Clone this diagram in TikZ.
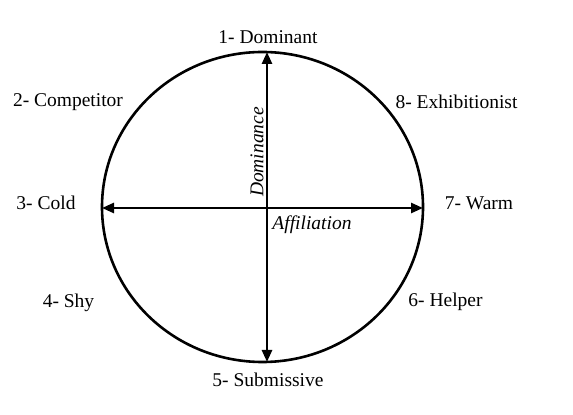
\documentclass[tikz,border=0pt]{standalone}
\usepackage{fontspec}
\setmainfont{Liberation Serif}
\usetikzlibrary{arrows.meta}

\begin{document}
\begin{tikzpicture}[x=1pt,y=1pt,>={Triangle[length=12pt,width=10pt]},
    lbl/.style={font=\fontsize{19.5}{22}\selectfont,inner sep=0pt},
    axislbl/.style={font=\fontsize{19.5}{22}\selectfont\itshape,inner sep=0pt}]
        \useasboundingbox (0,0) rectangle (573,415);
        \draw[line width=2.6pt] (262.5,208) ellipse (160.5 and 155);
        \coordinate (north) at (267,363);
        \coordinate (south) at (267,53);
        \coordinate (west) at (102,207);
        \coordinate (east) at (423,207);
        \draw[<->,line width=2.6pt] (south) -- (north);
        \draw[<->,line width=2.6pt] (west) -- (east);
        \node[lbl] (dom) at (268,378) {1- Dominant};
        \node[lbl] (comp) at (68,313) {2- Competitor};
        \node[lbl] (cold) at (46,212) {3- Cold};
        \node[lbl] (shy) at (68.5,112) {4- Shy};
        \node[lbl] (sub) at (268,35) {5- Submissive};
        \node[lbl] (helper) at (445.5,113) {6- Helper};
        \node[lbl] (warm) at (479,212) {7- Warm};
        \node[lbl] (exhib) at (456.5,313) {8- Exhibitionist};
        \node[axislbl,rotate=90] (dominance) at (257,263) {Dominance};
        \node[axislbl] (affil) at (312,190) {Affiliation};
      \end{tikzpicture}
\end{document}
